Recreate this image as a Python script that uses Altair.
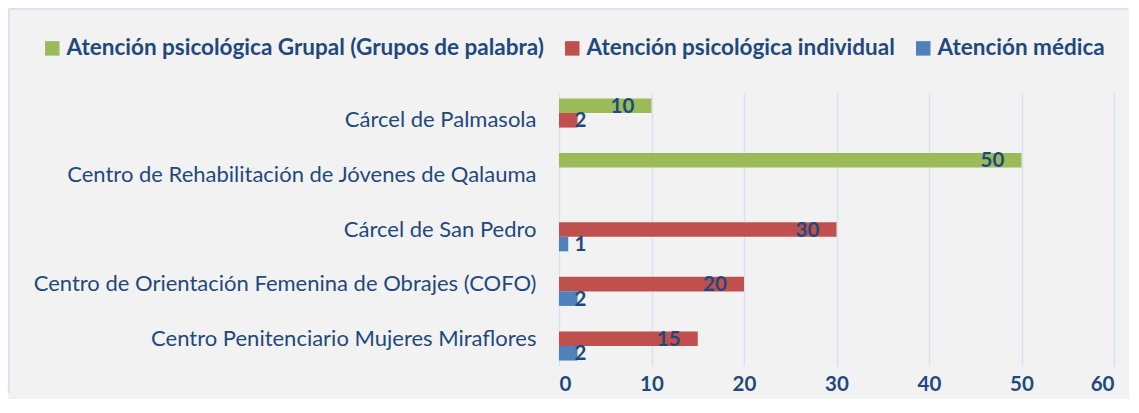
import altair as alt
import pandas as pd

categories = [
    "Cárcel de Palmasola",
    "Centro de Rehabilitación de Jóvenes de Qalauma",
    "Cárcel de San Pedro",
    "Centro de Orientación Femenina de Obrajes (COFO)",
    "Centro Penitenciario Mujeres Miraflores",
]
series = [
    "Atención psicológica Grupal (Grupos de palabra)",
    "Atención psicológica individual",
    "Atención médica",
]
grupal = [10, 50, None, None, None]
individual = [2, None, 30, 20, 15]
medica = [None, None, 1, 2, 2]
colors = ["#9BBB59", "#C0504D", "#4F81BD"]

rows = []
for s, vals in zip(series, [grupal, individual, medica]):
    for c, v in zip(categories, vals):
        if v is not None:
            rows.append({"categoria": c, "serie": s, "valor": v})
df = pd.DataFrame(rows)

FONT = "Lato"
TXT = "#1F497D"
BORDER = "#D6E3F3"

y_enc = alt.Y(
    "categoria:N",
    sort=categories,
    scale=alt.Scale(paddingInner=0.2, paddingOuter=0.1),
    axis=alt.Axis(
        title=None, ticks=False, domain=False, labelPadding=23,
        labelLimit=700, labelFontSize=22, labelColor=TXT, labelFont=FONT,
        minExtent=551, maxExtent=551,
    ),
)
yoff = alt.YOffset("serie:N", sort=series)
x_scale = alt.Scale(domain=[0, 60], nice=False)

bars = alt.Chart(df).mark_bar().encode(
    x=alt.X(
        "valor:Q", scale=x_scale,
        axis=alt.Axis(
            title=None, values=[0, 10, 20, 30, 40, 50, 60], ticks=False,
            domain=False, grid=True, gridColor=BORDER, gridWidth=1.5,
            labelFontSize=20.5, labelFontWeight="bold", labelColor=TXT,
            labelFont=FONT, labelPadding=8,
        ),
    ),
    y=y_enc,
    yOffset=yoff,
    color=alt.Color(
        "serie:N", sort=series,
        scale=alt.Scale(domain=series, range=colors),
        legend=alt.Legend(
            orient="none", legendX=-518, legendY=-56, direction="horizontal",
            title=None, symbolType="square", symbolSize=210,
            symbolStrokeWidth=0, labelFontSize=22.5, labelFontWeight="bold",
            labelColor=TXT, labelFont=FONT, columnPadding=17, labelOffset=3,
            labelLimit=700, padding=0,
        ),
    ),
)

labels = alt.Chart(df).transform_calculate(
    lx="max(datum.valor - 1.85, 2.95)"
).mark_text(
    align="right", baseline="middle", fontSize=20.5, fontWeight="bold",
    color=TXT, font=FONT, dy=1,
).encode(
    x=alt.X("lx:Q", scale=x_scale),
    y=alt.Y("categoria:N", sort=categories),
    yOffset=yoff,
    text="valor:Q",
)

frame_df = pd.DataFrame({"k": [0]})
top_border = alt.Chart(frame_df).mark_rule(color=BORDER, strokeWidth=2).encode(
    x=alt.value(-550), x2=alt.value(569), y=alt.value(-84)
)
left_border = alt.Chart(frame_df).mark_rule(color=BORDER, strokeWidth=2).encode(
    x=alt.value(-550), y=alt.value(-84), y2=alt.value(300)
)

chart = (
    alt.layer(bars, labels, top_border, left_border)
    .properties(
        width=555, height=273, background="#F2F2F2",
        padding={"left": 0, "top": 0, "right": 0, "bottom": 4},
    )
    .configure_view(stroke=None)
)

chart.save("out.html", embed_options={"renderer": "svg", "actions": False})
